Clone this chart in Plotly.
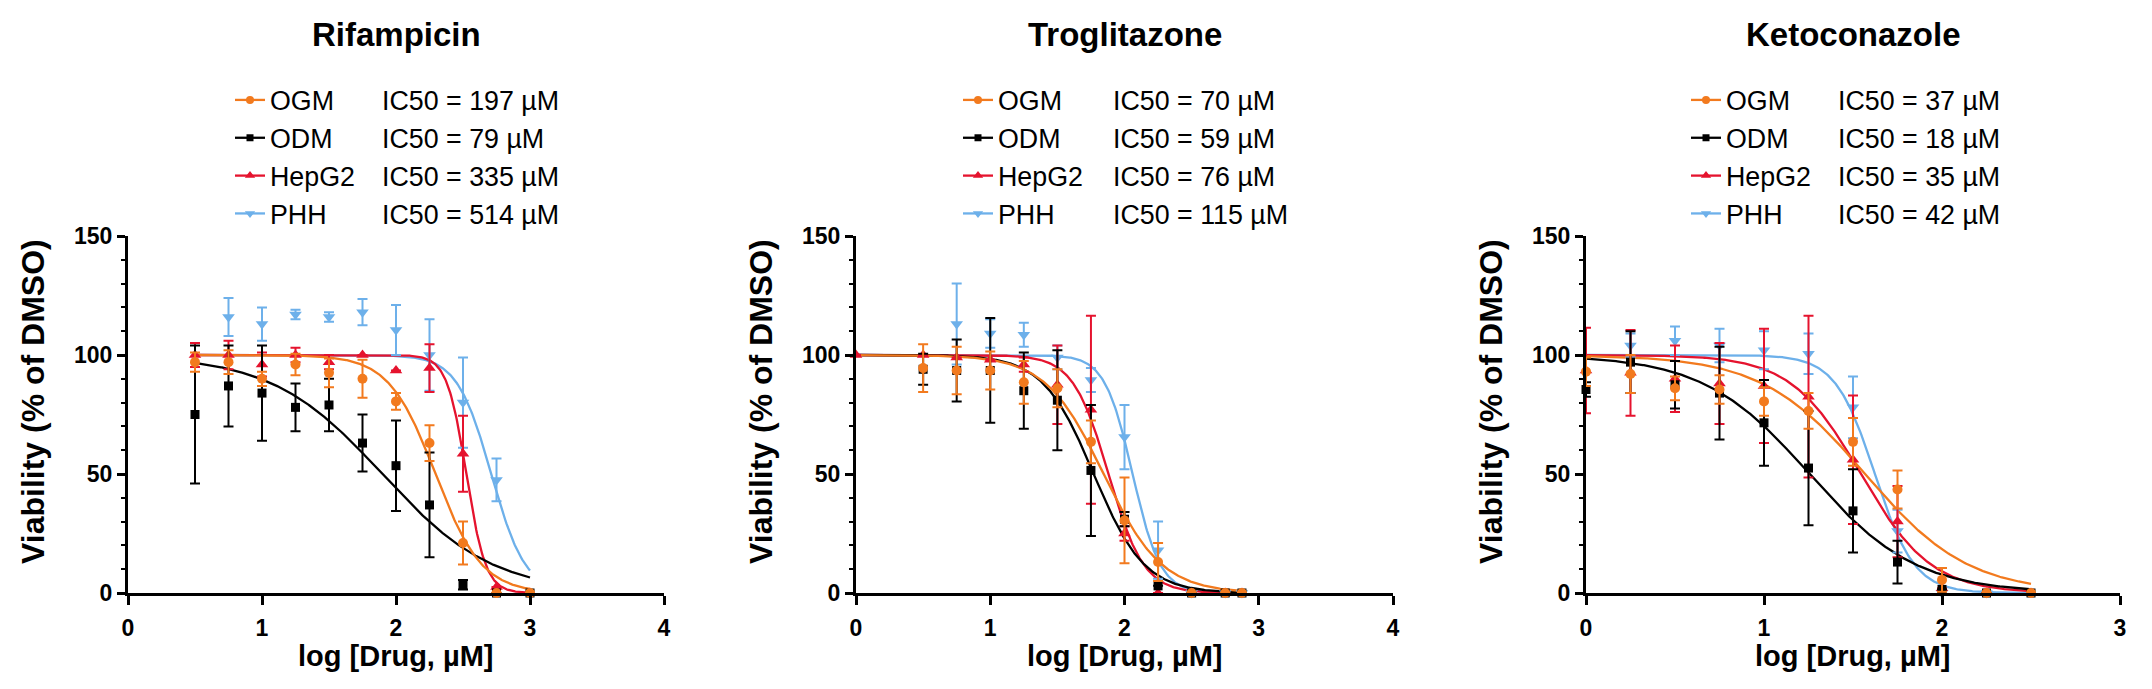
import numpy as np
import plotly.graph_objects as go

W, H = 2152, 689          # target screenshot size
PAGE_PAD = 8              # default <body> margin of the written page
FW, FH = W - 2 * PAGE_PAD, H - 2 * PAGE_PAD

# ---------------- data ----------------
drugs = ["Rifampicin", "Troglitazone", "Ketoconazole"]
cell_types = ["OGM", "ODM", "HepG2", "PHH"]

# Rifampicin
rif_logc = [0.5, 0.75, 1.0, 1.25, 1.5, 1.75, 2.0, 2.25, 2.5, 2.75, 3.0]
rif_ogm = [97, 97, 90, 96, 92.5, 90, 80.5, 63, 21, 0, 0]
rif_ogm_sd = [4, 5, 3, 4.5, 6, 8, 3.5, 7.5, 9, 0, 0]
rif_odm = [75, 87, 84, 78, 79, 63, 53.5, 37, 3.5, 0, 0]
rif_odm_sd = [29, 17, 20, 10, 11, 12, 19, 22, 2, 0, 0]
rif_hepg2 = [100, 100, 96, 100, 97, 100, 93.5, 94.5, 58.5, 2.5, 0]
rif_hepg2_sd = [5, 6, 5, 3, 3, 0, 0, 10, 16, 0, 0]
rif_phh = [None, 116, 113, 117, 116, 118, 110.5, 100, 80, 47.5, None]
rif_phh_sd = [0, 8, 7, 2, 2, 5.5, 10.5, 15, 19, 9, 0]
rif_ic50 = [197, 79, 335, 514]
rif_hill = [2.5, 1.05, 6.0, 3.4]

# Troglitazone
tro_logc = [0, 0.5, 0.75, 1.0, 1.25, 1.5, 1.75, 2.0, 2.25, 2.5, 2.75, 2.875]
tro_ogm = [None, 94.5, 93.5, 93.5, 88.5, 86, 63.5, 30.5, 13, 0, 0, 0]
tro_ogm_sd = [0, 10, 10, 8, 9, 8, 9, 18, 8, 0, 0, 0]
tro_odm = [None, 94, 93.5, 93.5, 85, 81, 51.5, 31, 3, 0, 0, 0]
tro_odm_sd = [0, 6.5, 13, 22, 16, 21, 27.5, 3, 0, 0, 0, 0]
tro_hepg2 = [100, 100, 99, 98, 96, 87.5, 77, 25, 0, 0, 0, 0]
tro_hepg2_sd = [0, 0, 0, 0, 3, 16.5, 39.5, 3, 0, 0, 0, 0]
tro_phh = [None, None, 113, 109, 108.5, 99, 89.5, 65.5, 18, 0, 0, 0]
tro_phh_sd = [0, 0, 17, 6, 5, 5, 5, 13.5, 12, 0, 0, 0]
tro_ic50 = [70, 59, 76, 115]
tro_hill = [2.0, 2.3, 3.3, 4.2]

# Ketoconazole
ket_logc = [0, 0.25, 0.5, 0.75, 1.0, 1.25, 1.5, 1.75, 2.0, 2.25, 2.5]
ket_ogm = [93, 92, 86, 85.5, 80.5, 76.5, 63.5, 43.5, 5.5, 0, 0]
ket_ogm_sd = [6, 8, 5, 6, 6, 7.5, 10, 8, 5, 0, 0]
ket_odm = [85.5, 97, 87.5, 84, 71.5, 52.5, 34.5, 13, 1.5, 0, 0]
ket_odm_sd = [3, 13, 10, 19.5, 18, 24, 17.5, 9, 0, 0, 0]
ket_hepg2 = [93.5, 92.5, 90, 88, 87, 82.5, 56, 30, 2, 0, 0]
ket_hepg2_sd = [18, 18, 14, 17, 24, 34, 27, 15, 0, 0, 0]
ket_phh = [None, 104, 106, 104, 102, 100.5, 78, 26, 0, 0, None]
ket_phh_sd = [0, 5, 6, 7, 8, 8.5, 13, 9, 0, 0, 0]
ket_ic50 = [37, 18, 35, 42]
ket_hill = [1.5, 1.45, 2.2, 3.9]

fit_top = 100
fit_bottom = 0

x_ticks = [[0, 1, 2, 3, 4], [0, 1, 2, 3, 4], [0, 1, 2, 3]]
y_ticks = [0, 50, 100, 150]

# ---------------- styling ----------------
colors = {"OGM": "#F27A1E", "ODM": "#000000", "HepG2": "#E5132E", "PHH": "#6DB0EA"}
symbols = {"OGM": "circle", "ODM": "square", "HepG2": "triangle-up", "PHH": "triangle-down"}
msize = {"OGM": 10, "ODM": 9, "HepG2": 11, "PHH": 11}
FONT = "Liberation Sans, Arial, Helvetica, sans-serif"

panels = [
    dict(logc=rif_logc, vals=[rif_ogm, rif_odm, rif_hepg2, rif_phh],
         sds=[rif_ogm_sd, rif_odm_sd, rif_hepg2_sd, rif_phh_sd], ic50=rif_ic50, hill=rif_hill),
    dict(logc=tro_logc, vals=[tro_ogm, tro_odm, tro_hepg2, tro_phh],
         sds=[tro_ogm_sd, tro_odm_sd, tro_hepg2_sd, tro_phh_sd], ic50=tro_ic50, hill=tro_hill),
    dict(logc=ket_logc, vals=[ket_ogm, ket_odm, ket_hepg2, ket_phh],
         sds=[ket_ogm_sd, ket_odm_sd, ket_hepg2_sd, ket_phh_sd], ic50=ket_ic50, hill=ket_hill),
]

# pixel layout (screen coordinates) of each plot area (left, right) and shared (top, bottom)
plot_px = [(128, 664), (856, 1393), (1586, 2120)]
top_px, bot_px = 236, 593
legend_px = [(230, 342), (958, 1073), (1686, 1798)]
legend_top_px = 76


def px_x(p):
    return (p - PAGE_PAD) / FW


def px_y(p):
    return 1 - (p - PAGE_PAD) / FH


fig = go.Figure()
layout = dict(width=FW, height=FH, margin=dict(l=0, r=0, t=0, b=0, autoexpand=False),
              template="none",
              paper_bgcolor="white", plot_bgcolor="white", showlegend=True,
              font=dict(family=FONT, color="black"))
annotations = []

draw_order = [3, 2, 1, 0]  # PHH, HepG2, ODM, OGM (OGM on top)

for i, p in enumerate(panels):
    sfx = "" if i == 0 else str(i + 1)
    xa, ya = "x" + sfx, "y" + sfx
    xmax = x_ticks[i][-1]
    xc = np.linspace(min(p["logc"]), max(p["logc"]), 400)

    # fitted four-parameter logistic curves (IC50 from legend, Hill slope)
    for j in draw_order:
        cell = cell_types[j]
        logic50 = np.log10(p["ic50"][j])
        yc = fit_bottom + (fit_top - fit_bottom) / (1 + 10 ** ((xc - logic50) * p["hill"][j]))
        fig.add_trace(go.Scatter(x=xc, y=yc, mode="lines", xaxis=xa, yaxis=ya,
                                 line=dict(color=colors[cell], width=2.3),
                                 showlegend=False, hoverinfo="skip"))
    # data points with SD error bars
    for j in draw_order:
        cell = cell_types[j]
        fig.add_trace(go.Scatter(
            x=p["logc"], y=p["vals"][j], mode="markers", xaxis=xa, yaxis=ya,
            marker=dict(symbol=symbols[cell], size=msize[cell], color=colors[cell]),
            error_y=dict(type="data", array=p["sds"][j], visible=True,
                         color=colors[cell], thickness=2, width=5),
            cliponaxis=False, showlegend=False, name=cell))

    # legends: names with glyphs, and IC50 column
    lg_name = "legend" if i == 0 else f"legend{2 * i + 1}"
    lg_ic = f"legend{2 * i + 2}"
    for j, cell in enumerate(cell_types):
        fig.add_trace(go.Scatter(
            x=[None], y=[None], mode="lines+markers", xaxis=xa, yaxis=ya, name=cell,
            line=dict(color=colors[cell], width=2.3),
            marker=dict(symbol=symbols[cell], size=msize[cell] - 2, color=colors[cell]),
            legend=lg_name, showlegend=True))
    for j, cell in enumerate(cell_types):
        fig.add_trace(go.Scatter(
            x=[None], y=[None], mode="markers", xaxis=xa, yaxis=ya,
            name=f"IC50 = {p['ic50'][j]} µM",
            marker=dict(size=1, color="rgba(0,0,0,0)"),
            legend=lg_ic, showlegend=True))

    for lg, lx in ((lg_name, legend_px[i][0]), (lg_ic, legend_px[i][1])):
        layout[lg] = dict(
            x=px_x(lx), y=px_y(legend_top_px), xanchor="left", yanchor="top",
            font=dict(family=FONT, size=26.8, color="black"), bgcolor="rgba(0,0,0,0)",
            itemwidth=30, tracegroupgap=0, itemclick=False, itemdoubleclick=False,
            borderwidth=0)

    l, r = plot_px[i]
    layout["xaxis" + sfx] = dict(
        domain=[px_x(l), px_x(r)], range=[0, xmax], anchor=ya, automargin=False,
        tickvals=x_ticks[i], ticks="outside", ticklen=9, tickwidth=3, tickcolor="black",
        ticklabelstandoff=3,
        showline=True, linewidth=3, linecolor="black", showgrid=False, zeroline=False,
        tickfont=dict(family=FONT, size=23, color="black", weight="bold"),
        fixedrange=True)
    layout["yaxis" + sfx] = dict(
        domain=[px_y(bot_px), px_y(top_px)], range=[0, 150], anchor=xa, automargin=False,
        tickvals=y_ticks, ticks="outside", ticklen=8, tickwidth=3, tickcolor="black",
        minor=dict(dtick=10, ticks="outside", ticklen=4, tickwidth=2, tickcolor="black"),
        showline=True, linewidth=3, linecolor="black", showgrid=False, zeroline=False,
        tickfont=dict(family=FONT, size=23, color="black", weight="bold"),
        fixedrange=True)

    cx = (l + r) / 2
    annotations.append(dict(text=f"<b>{drugs[i]}</b>", x=px_x(cx), y=px_y(35),
                            xref="paper", yref="paper", xanchor="center", yanchor="middle",
                            showarrow=False, font=dict(family=FONT, size=33, color="black")))
    annotations.append(dict(text="<b>log [Drug, µM]</b>", x=px_x(cx), y=px_y(656),
                            xref="paper", yref="paper", xanchor="center", yanchor="middle",
                            showarrow=False, font=dict(family=FONT, size=29, color="black")))
    annotations.append(dict(text="<b>Viability (% of DMSO)</b>", x=px_x(l - 95), y=px_y(402),
                            xref="paper", yref="paper", xanchor="center", yanchor="middle",
                            textangle=-90, showarrow=False,
                            font=dict(family=FONT, size=32, color="black")))

layout["annotations"] = annotations
fig.update_layout(**layout)
fig.write_html("out.html")
